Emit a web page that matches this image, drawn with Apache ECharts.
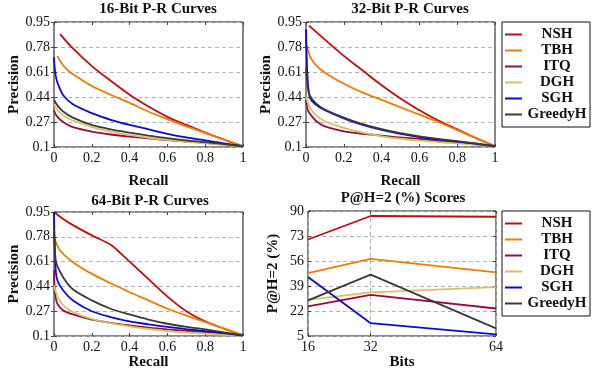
<!DOCTYPE html>
<html>
<head>
<meta charset="utf-8">
<script src="https://cdn.jsdelivr.net/npm/echarts@6/dist/echarts.min.js"></script>
<style>
  html, body { margin: 0; padding: 0; background: #fff; }
  #chart { width: 592px; height: 372px; }
</style>
</head>
<body>
<div id="chart"></div>
<script>
// method names and colours
const methods = ["NSH", "TBH", "ITQ", "DGH", "SGH", "GreedyH"];
const colors = ["#c40a0a", "#f07c00", "#9b0a3e", "#d4c264", "#0a0ad2", "#3a3a3a"];

// tick labels
const prTicks = [0.1, 0.27, 0.44, 0.61, 0.78, 0.95];
const phTicks = [5, 22, 39, 56, 73, 90];
const bits = [16, 32, 64];

// 16-bit P-R curves, [recall, precision]
const nsh16 = [[0.032,0.868],[0.1,0.77],[0.2,0.65],[0.3,0.55],[0.4,0.455],[0.5,0.375],[0.6,0.305],[0.7,0.25],[0.8,0.198],[0.9,0.15],[1,0.105]];
const tbh16 = [[0.018,0.72],[0.04,0.67],[0.07,0.625],[0.1,0.595],[0.2,0.515],[0.3,0.455],[0.4,0.4],[0.5,0.34],[0.6,0.29],[0.7,0.24],[0.8,0.195],[0.9,0.15],[1,0.105]];
const itq16 = [[0,0.35],[0.01,0.32],[0.03,0.29],[0.06,0.26],[0.1,0.235],[0.2,0.205],[0.3,0.185],[0.4,0.17],[0.5,0.158],[0.6,0.147],[0.7,0.137],[0.8,0.128],[0.9,0.118],[1,0.105]];
const dgh16 = [[0,0.39],[0.02,0.35],[0.05,0.315],[0.1,0.28],[0.2,0.235],[0.3,0.205],[0.4,0.182],[0.5,0.163],[0.6,0.148],[0.7,0.135],[0.8,0.125],[0.9,0.115],[1,0.103]];
const sgh16 = [[0,0.71],[0.005,0.62],[0.015,0.55],[0.03,0.5],[0.05,0.45],[0.1,0.39],[0.2,0.33],[0.3,0.285],[0.4,0.25],[0.5,0.22],[0.6,0.19],[0.7,0.165],[0.8,0.145],[0.9,0.125],[1,0.105]];
const greedy16 = [[0,0.42],[0.02,0.38],[0.05,0.34],[0.1,0.3],[0.2,0.25],[0.3,0.22],[0.4,0.198],[0.5,0.178],[0.6,0.16],[0.7,0.145],[0.8,0.133],[0.9,0.12],[1,0.105]];

// 32-bit P-R curves
const nsh32 = [[0.016,0.925],[0.1,0.83],[0.2,0.72],[0.3,0.62],[0.4,0.52],[0.5,0.43],[0.6,0.35],[0.7,0.28],[0.8,0.22],[0.9,0.16],[1,0.105]];
const tbh32 = [[0.005,0.79],[0.02,0.72],[0.05,0.66],[0.1,0.605],[0.2,0.53],[0.3,0.47],[0.4,0.42],[0.5,0.37],[0.6,0.32],[0.7,0.27],[0.8,0.215],[0.9,0.16],[1,0.105]];
const itq32 = [[0,0.43],[0.01,0.35],[0.03,0.31],[0.06,0.27],[0.1,0.24],[0.2,0.207],[0.3,0.19],[0.4,0.178],[0.5,0.165],[0.6,0.155],[0.7,0.142],[0.8,0.13],[0.9,0.118],[1,0.105]];
const dgh32 = [[0,0.44],[0.02,0.37],[0.05,0.32],[0.1,0.275],[0.2,0.23],[0.3,0.197],[0.4,0.173],[0.5,0.156],[0.6,0.143],[0.7,0.133],[0.8,0.125],[0.9,0.115],[1,0.103]];
const sgh32 = [[0,0.9],[0.003,0.75],[0.008,0.58],[0.02,0.44],[0.05,0.39],[0.1,0.35],[0.2,0.295],[0.3,0.25],[0.4,0.217],[0.5,0.19],[0.6,0.168],[0.7,0.15],[0.8,0.136],[0.9,0.122],[1,0.105]];
const greedy32 = [[0,0.64],[0.01,0.5],[0.02,0.45],[0.05,0.4],[0.1,0.355],[0.2,0.3],[0.3,0.255],[0.4,0.222],[0.5,0.195],[0.6,0.173],[0.7,0.155],[0.8,0.14],[0.9,0.125],[1,0.105]];

// 64-bit P-R curves
const nsh64 = [[0,0.95],[0.05,0.9],[0.1,0.86],[0.2,0.79],[0.3,0.725],[0.35,0.67],[0.4,0.61],[0.5,0.49],[0.6,0.37],[0.7,0.27],[0.8,0.2],[0.9,0.15],[1,0.105]];
const tbh64 = [[0,0.78],[0.03,0.69],[0.1,0.606],[0.2,0.526],[0.3,0.462],[0.4,0.4],[0.5,0.344],[0.6,0.287],[0.7,0.24],[0.8,0.196],[0.9,0.15],[1,0.105]];
const itq64 = [[0,0.55],[0.005,0.4],[0.018,0.32],[0.05,0.275],[0.1,0.248],[0.2,0.212],[0.3,0.19],[0.4,0.173],[0.5,0.158],[0.6,0.146],[0.7,0.136],[0.8,0.127],[0.9,0.116],[1,0.102]];
const dgh64 = [[0,0.446],[0.02,0.366],[0.05,0.31],[0.1,0.264],[0.2,0.218],[0.3,0.188],[0.4,0.166],[0.5,0.148],[0.6,0.134],[0.7,0.124],[0.8,0.116],[0.9,0.108],[1,0.1]];
const sgh64 = [[0,0.95],[0.003,0.75],[0.008,0.57],[0.018,0.48],[0.05,0.41],[0.1,0.344],[0.2,0.27],[0.3,0.23],[0.4,0.2],[0.5,0.18],[0.6,0.162],[0.7,0.147],[0.8,0.134],[0.9,0.12],[1,0.103]];
const greedy64 = [[0,0.84],[0.005,0.7],[0.012,0.6],[0.05,0.5],[0.1,0.42],[0.2,0.344],[0.3,0.287],[0.4,0.248],[0.5,0.213],[0.6,0.184],[0.7,0.163],[0.8,0.145],[0.9,0.125],[1,0.105]];

// P@H=2 (%) per code length
const nshPH = [70.6, 86.6, 86.1];
const tbhPH = [47.8, 57.4, 48.3];
const itqPH = [25.1, 33.0, 23.7];
const dghPH = [29.6, 34.6, 38.3];
const sghPH = [45.1, 13.7, 6.1];
const greedyPH = [29.2, 46.7, 10.2];

const FONT = '"Liberation Serif", "Times New Roman", serif';
const dashed = { show: true, lineStyle: { color: "#b4b4b4", type: [4, 3], width: 1 } };
const tickIn = { show: true, inside: true, length: 3, lineStyle: { color: "#444" } };
const labelStyle = { fontFamily: FONT, fontSize: 14, color: "#111" };
const nameStyle = { fontFamily: FONT, fontSize: 15, fontWeight: "bold", color: "#111" };

const grids = [
  { left: 54, top: 22, width: 189, height: 125 },
  { left: 306, top: 22, width: 189, height: 125 },
  { left: 54, top: 212, width: 189, height: 124 },
  { left: 308, top: 211, width: 188, height: 125 },
].map((g) => ({ ...g, show: true, borderColor: "#111", borderWidth: 1, containLabel: false }));

const xAxes = [];
const yAxes = [];
[0, 1, 2].forEach((i) => {
  xAxes.push({
    type: "value", gridIndex: i, min: 0, max: 1, interval: 0.2,
    name: "Recall", nameLocation: "middle", nameGap: i < 2 ? 27 : 18, nameTextStyle: nameStyle,
    axisLine: { show: false }, axisTick: tickIn, splitLine: { show: false },
    axisLabel: { ...labelStyle, margin: 4 },
  });
  xAxes.push({
    type: "value", gridIndex: i, position: "top", min: 0, max: 1, interval: 0.2,
    axisLine: { show: false }, axisTick: tickIn, splitLine: { show: false }, axisLabel: { show: false },
  });
  yAxes.push({
    type: "value", gridIndex: i, min: 0.1, max: 0.95,
    name: "Precision", nameLocation: "middle", nameGap: 32, nameTextStyle: nameStyle,
    axisLine: { show: false },
    axisTick: { ...tickIn, customValues: prTicks },
    splitLine: dashed,
    axisLabel: { ...labelStyle, margin: 4, customValues: prTicks },
  });
  yAxes.push({
    type: "value", gridIndex: i, position: "right", min: 0.1, max: 0.95,
    axisLine: { show: false }, axisTick: { ...tickIn, customValues: prTicks },
    splitLine: { show: false }, axisLabel: { show: false, customValues: prTicks },
  });
});
xAxes.push({
  type: "value", gridIndex: 3, min: 16, max: 64,
  name: "Bits", nameLocation: "middle", nameGap: 18, nameTextStyle: nameStyle,
  axisLine: { show: false }, axisTick: { ...tickIn, customValues: bits }, splitLine: dashed,
  axisLabel: { ...labelStyle, margin: 4, customValues: bits },
});
xAxes.push({
  type: "value", gridIndex: 3, position: "top", min: 16, max: 64,
  axisLine: { show: false }, axisTick: { ...tickIn, customValues: bits }, splitLine: { show: false },
  axisLabel: { show: false, customValues: bits },
});
yAxes.push({
  type: "value", gridIndex: 3, min: 5, max: 90,
  name: "P@H=2 (%)", nameLocation: "middle", nameGap: 27, nameTextStyle: nameStyle,
  axisLine: { show: false }, axisTick: { ...tickIn, customValues: phTicks }, splitLine: dashed,
  axisLabel: { ...labelStyle, margin: 4, customValues: phTicks },
});
yAxes.push({
  type: "value", gridIndex: 3, position: "right", min: 5, max: 90,
  axisLine: { show: false }, axisTick: { ...tickIn, customValues: phTicks }, splitLine: { show: false },
  axisLabel: { show: false, customValues: phTicks },
});

const prSets = [
  [nsh16, tbh16, itq16, dgh16, sgh16, greedy16],
  [nsh32, tbh32, itq32, dgh32, sgh32, greedy32],
  [nsh64, tbh64, itq64, dgh64, sgh64, greedy64],
];
const phSet = [nshPH, tbhPH, itqPH, dghPH, sghPH, greedyPH];

const series = [];
prSets.forEach((set, p) => {
  set.forEach((data, k) => {
    series.push({
      type: "line", name: methods[k], xAxisIndex: p * 2, yAxisIndex: p * 2,
      data, symbol: "none", smooth: 0.3,
      lineStyle: { color: colors[k], width: 1.8 }, itemStyle: { color: colors[k] },
      silent: true, animation: false,
    });
  });
});
phSet.forEach((vals, k) => {
  series.push({
    type: "line", name: methods[k], xAxisIndex: 6, yAxisIndex: 6,
    data: bits.map((b, i) => [b, vals[i]]), symbol: "none",
    lineStyle: { color: colors[k], width: 1.8 }, itemStyle: { color: colors[k] },
    silent: true, animation: false,
  });
});

const legendBase = {
  orient: "vertical", selectedMode: false,
  data: methods.map((name) => ({ name, icon: "rect" })),
  borderColor: "#111", borderWidth: 1, padding: [5, 3, 5, 3],
  itemWidth: 17, itemHeight: 2, itemGap: 1,
  formatter: "{a|{name}}",
  textStyle: {
    rich: { a: { width: 60, height: 13, lineHeight: 13, align: "center", fontFamily: FONT, fontSize: 15, fontWeight: "bold", color: "#111" } },
  },
};

const titles = [
  ["16-Bit P-R Curves", 158, 9],
  ["32-Bit P-R Curves", 410, 9],
  ["64-Bit P-R Curves", 150, 201],
  ["P@H=2 (%) Scores", 403, 198],
];

const chart = echarts.init(document.getElementById("chart"));
chart.setOption({
  animation: false,
  grid: grids,
  xAxis: xAxes,
  yAxis: yAxes,
  series,
  legend: [
    { ...legendBase, left: 502, top: 22 },
    { ...legendBase, left: 502, top: 211 },
  ],
  graphic: titles.map(([text, x, y]) => ({
    type: "text", x, y,
    style: { text, align: "center", verticalAlign: "middle", font: "bold 15px " + FONT, fill: "#111" },
  })),
});
</script>
</body>
</html>
